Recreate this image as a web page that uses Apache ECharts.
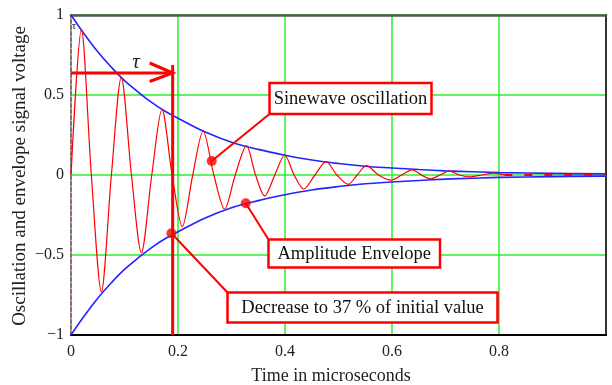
<!DOCTYPE html>
<html><head><meta charset="utf-8">
<script src="https://cdn.jsdelivr.net/npm/echarts@6/dist/echarts.min.js"></script>
<style>html,body{margin:0;padding:0;background:#fff}#c{width:612px;height:385px}</style>
</head><body><div id="c"></div>
<script>
// ---- data ----
const xTickValues = [0, 0.2, 0.4, 0.6, 0.8];
const xTickLabels = ["0", "0.2", "0.4", "0.6", "0.8"];
const yTickValues = [-1, -0.5, 0, 0.5, 1];
const yTickLabels = ["\u22121", "\u22120.5", "0", "0.5", "1"];

// damped sine: peaks, troughs and zero crossings
const oscX = [0, 0.0194, 0.038, 0.0568, 0.0755, 0.094, 0.113, 0.1316, 0.151, 0.170, 0.189, 0.208,
  0.2275, 0.247, 0.267, 0.287, 0.307, 0.328, 0.345, 0.362, 0.381, 0.3995, 0.417, 0.435, 0.456,
  0.477, 0.497, 0.518, 0.535, 0.552, 0.575, 0.598, 0.618, 0.638, 0.655, 0.672, 0.69, 0.707,
  0.726, 0.745, 0.768, 0.79, 0.81];
const oscY = [0, 0.91, 0, -0.73, 0, 0.61, 0, -0.486, 0, 0.41, 0, -0.323,
  0, 0.275, 0, -0.214, 0, 0.183, 0, -0.131, 0, 0.125, 0, -0.0875, 0,
  0.083, 0, -0.058, 0, 0.058, 0, -0.032, 0, 0.032, 0, -0.024, 0, 0.024,
  0, -0.012, 0, 0.012, 0];
const oscTailX = [0.81, 1.0];
const oscTailY = [0, 0];

// exponential envelope
const envX = [0, 0.025, 0.05, 0.075, 0.1, 0.125, 0.15, 0.175, 0.2, 0.25, 0.3, 0.35, 0.4, 0.45,
  0.5, 0.55, 0.6, 0.65, 0.7, 0.75, 0.8, 0.9, 1.0];
const envUpper = [1, 0.88, 0.77, 0.675, 0.59, 0.52, 0.455, 0.40, 0.355, 0.27, 0.205, 0.16, 0.124,
  0.094, 0.072, 0.055, 0.044, 0.034, 0.026, 0.02, 0.015, 0.01, 0.007];
const envLower = [-1, -0.88, -0.77, -0.675, -0.59, -0.52, -0.455, -0.40, -0.355, -0.27, -0.205, -0.16, -0.124,
  -0.094, -0.072, -0.055, -0.044, -0.034, -0.026, -0.02, -0.015, -0.01, -0.007];

// time constant marker
const tauX = 0.19;
const tauArrowY = 0.6375;
const tauLineTop = 0.6875;

// annotation labels and the points they refer to
const annotLabels = ["Sinewave oscillation", "Amplitude Envelope", "Decrease to 37 % of initial value"];
const annotPointX = [0.263, 0.3266, 0.1877];
const annotPointY = [0.0875, -0.177, -0.364];

// ---- chart ----
const FONT = "'Liberation Serif', 'Times New Roman', serif";
const chart = echarts.init(document.getElementById('c'), null, {renderer: 'canvas'});
const zip = (a, b) => a.map((v, i) => [v, b[i]]);
const green = '#2cf02c';

const option = {
  animation: false,
  backgroundColor: '#fff',
  grid: {left: 71, top: 15, width: 535, height: 320, containLabel: false},
  xAxis: [
    {type: 'value', position: 'bottom', min: 0, max: 1, interval: 0.2,
     axisLine: {show: true, onZero: false, lineStyle: {color: '#000', width: 2}},
     axisTick: {show: false},
     axisLabel: {margin: 9, color: '#222', fontFamily: FONT, fontSize: 16,
       formatter: v => { const i = xTickValues.findIndex(t => Math.abs(t - v) < 1e-9); return i >= 0 ? xTickLabels[i] : ''; }},
     splitLine: {show: true, lineStyle: {color: green, width: 1.5}}},
    {type: 'value', position: 'top', min: 0, max: 1, interval: 0.2,
     axisLine: {show: true, onZero: false, lineStyle: {color: '#555', width: 2.5}},
     axisTick: {show: false}, axisLabel: {show: false}, splitLine: {show: false}}
  ],
  yAxis: [
    {type: 'value', position: 'left', min: -1, max: 1, interval: 0.5,
     axisLine: {show: true, onZero: false, lineStyle: {color: '#d8a0a8', width: 2}},
     axisTick: {show: false},
     axisLabel: {margin: 7, color: '#222', fontFamily: FONT, fontSize: 16,
       formatter: v => { const i = yTickValues.findIndex(t => Math.abs(t - v) < 1e-9); return i >= 0 ? yTickLabels[i] : ''; }},
     splitLine: {show: true, lineStyle: {color: green, width: 1.5}}},
    {type: 'value', position: 'left', min: -1, max: 1, interval: 0.5,
     axisLine: {show: true, onZero: false, lineStyle: {color: '#777', width: 2, type: [3, 3]}},
     axisTick: {show: false}, axisLabel: {show: false}, splitLine: {show: false}},
    {type: 'value', position: 'right', min: -1, max: 1, interval: 0.5,
     axisLine: {show: true, onZero: false, lineStyle: {color: '#333', width: 2}},
     axisTick: {show: false}, axisLabel: {show: false}, splitLine: {show: false}}
  ],
  series: [
    {type: 'line', name: 'envUpper', data: zip(envX, envUpper), smooth: 0.4, showSymbol: false,
     lineStyle: {color: '#2424ff', width: 1.6}, z: 3},
    {type: 'line', name: 'envLower', data: zip(envX, envLower), smooth: 0.4, showSymbol: false,
     lineStyle: {color: '#2424ff', width: 1.6}, z: 3},
    {type: 'line', name: 'osc', data: zip(oscX, oscY), smooth: 0.3, showSymbol: false,
     lineStyle: {color: '#ff0000', width: 1.2}, z: 4},
    {type: 'line', name: 'oscTail', data: zip(oscTailX, oscTailY), showSymbol: false,
     lineStyle: {color: '#ff0000', width: 2, type: [8, 12]}, z: 4},
    {type: 'line', name: 'tauH', data: [[0, tauArrowY], [tauX, tauArrowY]], showSymbol: false,
     lineStyle: {color: '#ff0000', width: 3}, z: 5},
    {type: 'line', name: 'tauV', data: [[tauX, tauLineTop], [tauX, -1]], showSymbol: false,
     lineStyle: {color: '#ff0000', width: 3}, z: 5},
    {type: 'scatter', name: 'dots', data: zip(annotPointX, annotPointY), symbolSize: 10,
     itemStyle: {color: '#ff0000'}, z: 7}
  ]
};
chart.setOption(option);

// ---- annotations (boxes, pointers, arrow head, labels) ----
const toPx = p => chart.convertToPixel({xAxisIndex: 0, yAxisIndex: 0}, p);
const boxes = [
  {x: 269.5, y: 83, w: 162, h: 31, cx: 269.5, cy: 114},
  {x: 268.5, y: 239.5, w: 171.5, h: 28, cx: 268.5, cy: 239.5},
  {x: 227.5, y: 292.5, w: 270, h: 30, cx: 227.5, cy: 292.5}
];
const g = [];
boxes.forEach((b, i) => {
  const d = toPx([annotPointX[i], annotPointY[i]]);
  g.push({type: 'line', shape: {x1: b.cx, y1: b.cy, x2: d[0], y2: d[1]},
          style: {stroke: '#ff0000', lineWidth: 2}, z: 6});
  g.push({type: 'rect', shape: {x: b.x, y: b.y, width: b.w, height: b.h},
          style: {fill: '#fff', stroke: '#ff0000', lineWidth: 2.5}, z: 8});
  g.push({type: 'text', x: b.x + b.w / 2, y: b.y + b.h / 2 + 1,
          style: {text: annotLabels[i], font: "18.5px " + FONT, fill: '#111', textAlign: 'center', textVerticalAlign: 'middle'}, z: 9});
});
const tip = toPx([tauX, tauArrowY]);
g.push({type: 'polyline', shape: {points: [[tip[0] - 23, tip[1] - 10], [tip[0], tip[1]], [tip[0] - 23, tip[1] + 8.5]]},
        style: {stroke: '#ff0000', lineWidth: 3, fill: null}, z: 6});
g.push({type: 'text', x: 136, y: 62, style: {text: '\u03c4', font: "italic 21px " + FONT, fill: '#222', textAlign: 'center', textVerticalAlign: 'middle'}, z: 9});
g.push({type: 'text', x: 74, y: 26, style: {text: '\u03c4', font: "11px " + FONT, fill: '#222', textAlign: 'center', textVerticalAlign: 'middle'}, z: 9});
g.push({type: 'text', x: 331, y: 376, style: {text: 'Time in microseconds', font: "18px " + FONT, fill: '#222', textAlign: 'center', textVerticalAlign: 'middle'}, z: 9});
g.push({type: 'text', x: 20, y: 176, rotation: Math.PI / 2, style: {text: 'Oscillation and envelope signal voltage', font: "19px " + FONT, fill: '#222', textAlign: 'center', textVerticalAlign: 'middle'}, z: 9});
chart.setOption({graphic: g});
</script></body></html>
